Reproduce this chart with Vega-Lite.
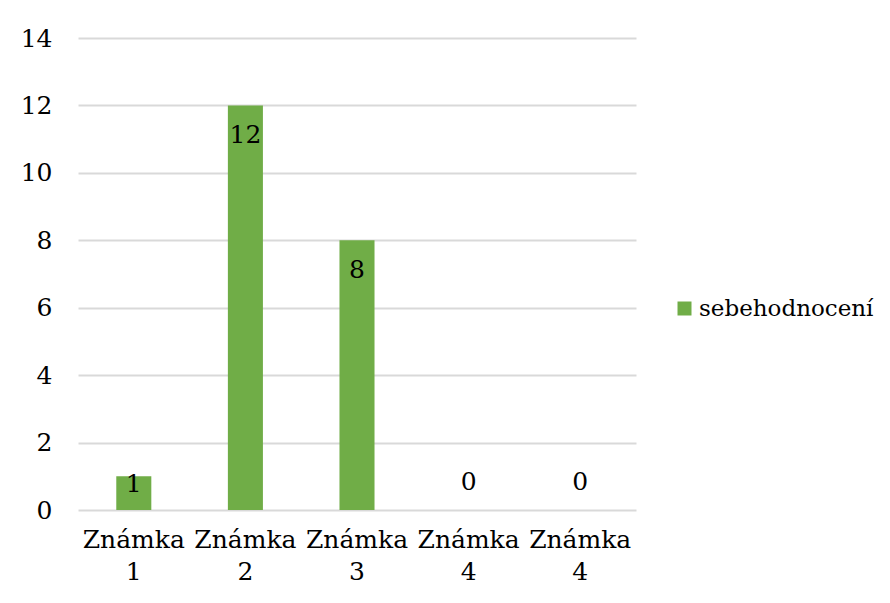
{
  "$schema": "https://vega.github.io/schema/vega-lite/v6.json",
  "autosize": {"type": "none"},
  "width": 558,
  "height": 472,
  "padding": {"left": 78, "top": 38, "right": 254, "bottom": 93},
  "background": "white",
  "config": {
    "font": "DejaVu Serif",
    "view": {"stroke": null},
    "axis": {"labelFont": "DejaVu Serif", "labelFontSize": 25, "labelColor": "#000000"},
    "legend": {"labelFont": "DejaVu Serif", "labelFontSize": 23, "labelColor": "#000000", "labelLimit": 400}
  },
  "data": {
    "values": [
      {"znamka": "Známka 1", "hodnota": 1, "serie": "sebehodnocení"},
      {"znamka": "Známka 2", "hodnota": 12, "serie": "sebehodnocení"},
      {"znamka": "Známka 3", "hodnota": 8, "serie": "sebehodnocení"},
      {"znamka": "Známka 4", "hodnota": 0, "serie": "sebehodnocení"},
      {"znamka": "Známka 4\u200b", "hodnota": 0, "serie": "sebehodnocení"}
    ]
  },
  "encoding": {
    "x": {
      "field": "znamka",
      "type": "nominal",
      "sort": null,
      "scale": {"paddingInner": 0.686, "paddingOuter": 0.343},
      "axis": {
        "title": null,
        "domain": false,
        "ticks": false,
        "labelAngle": 0,
        "labelPadding": 17,
        "labelLineHeight": 32,
        "labelLimit": 200,
        "labelExpr": "split(datum.label, ' ')"
      }
    },
    "y": {
      "field": "hodnota",
      "type": "quantitative",
      "scale": {"domain": [0, 14], "nice": false},
      "axis": {
        "title": null,
        "domain": false,
        "ticks": false,
        "values": [0, 2, 4, 6, 8, 10, 12, 14],
        "labelPadding": 26,
        "gridColor": "#d9d9d9",
        "gridWidth": 2
      }
    }
  },
  "layer": [
    {
      "mark": {"type": "bar", "color": "#70AD47"},
      "encoding": {
        "color": {
          "field": "serie",
          "type": "nominal",
          "scale": {"range": ["#70AD47"]},
          "legend": {
            "title": null,
            "orient": "none",
            "legendX": 595,
            "legendY": 259,
            "symbolType": "square",
            "symbolSize": 196,
            "symbolStrokeWidth": 0,
            "labelOffset": 3
          }
        }
      }
    },
    {
      "transform": [{"filter": "datum.hodnota >= 2"}],
      "mark": {"type": "text", "fontSize": 25, "color": "#000000", "baseline": "middle", "dy": 30, "font": "DejaVu Serif"},
      "encoding": {"text": {"field": "hodnota", "type": "quantitative"}}
    },
    {
      "transform": [{"filter": "datum.hodnota == 1"}],
      "mark": {"type": "text", "fontSize": 25, "color": "#000000", "baseline": "middle", "dy": 8, "font": "DejaVu Serif"},
      "encoding": {"text": {"field": "hodnota", "type": "quantitative"}}
    },
    {
      "transform": [{"filter": "datum.hodnota == 0"}],
      "mark": {"type": "text", "fontSize": 25, "color": "#000000", "baseline": "middle", "dy": -28, "font": "DejaVu Serif"},
      "encoding": {"text": {"field": "hodnota", "type": "quantitative"}}
    }
  ]
}
